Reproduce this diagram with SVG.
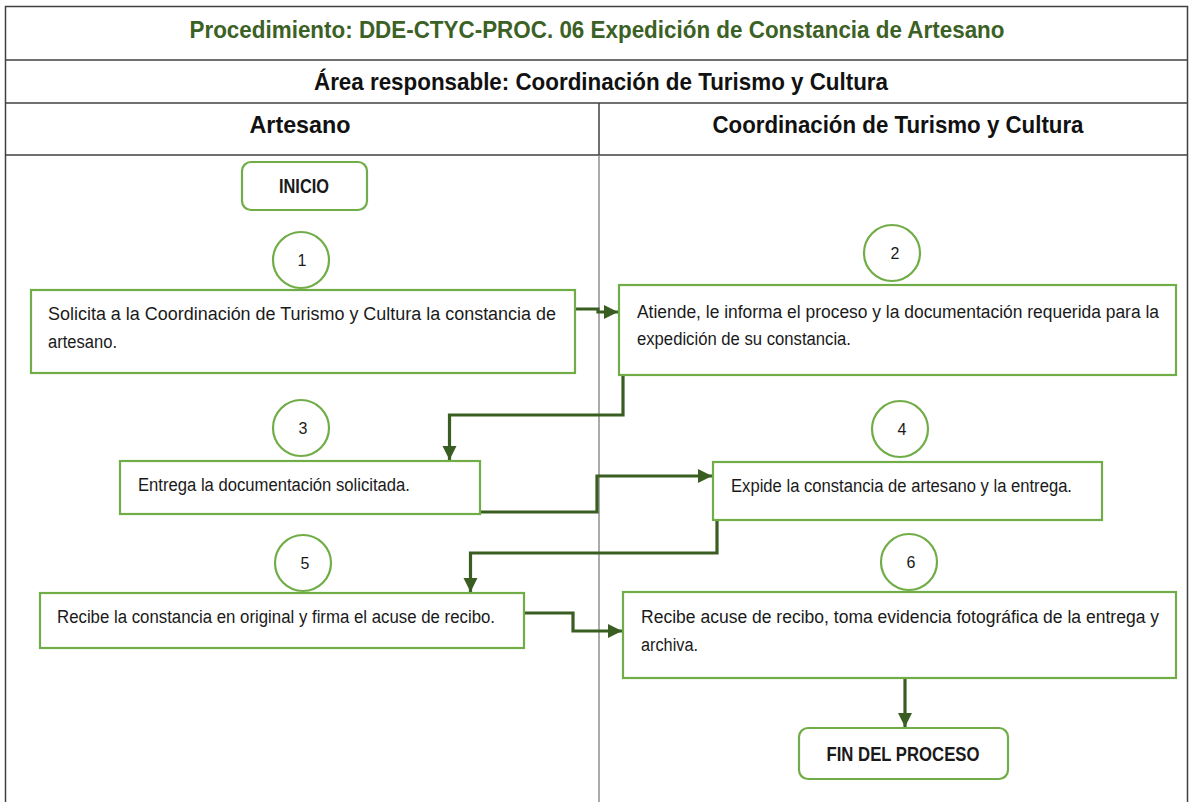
<svg xmlns="http://www.w3.org/2000/svg" width="1190" height="802" viewBox="0 0 1190 802">
  <defs>
    <style>
      .grid { stroke: #404040; stroke-width: 1.5; fill: none; }
      .lane { stroke: #7f7f7f; stroke-width: 1.3; fill: none; }
      .box { fill: #ffffff; stroke: #70ad47; stroke-width: 2.2; }
      .num { fill: #ffffff; stroke: #70ad47; stroke-width: 2.2; }
      .txt { font-family: "Liberation Sans", Arial, sans-serif; font-size: 18px; fill: #1a1a1a; }
      .dig { font-family: "Liberation Sans", Arial, sans-serif; font-size: 16px; fill: #1a1a1a; text-anchor: middle; }
      .term { font-family: "Liberation Sans", Arial, sans-serif; font-size: 19.5px; font-weight: bold; fill: #1a1a1a; text-anchor: middle; }
      .head { font-family: "Liberation Sans", Arial, sans-serif; font-size: 24px; font-weight: bold; fill: #111111; text-anchor: middle; }
      .title { fill: #3b6125; }
      .conn { fill: none; stroke: #3a5e22; stroke-width: 3.2; stroke-linejoin: miter; }
    </style>
    <marker id="arrow" markerUnits="userSpaceOnUse" markerWidth="15" markerHeight="15" refX="14" refY="7" orient="auto">
      <path d="M0,0 L14,7 L0,14 z" fill="#3a5e22"/>
    </marker>
  </defs>

  <rect width="1190" height="802" fill="#ffffff"/>

  <!-- table frame and swimlane headers -->
  <g id="table">
    <path class="grid" d="M5.5,803 V6.5 H1187.5 V803"/>
    <line class="grid" x1="5" y1="60" x2="1188" y2="60"/>
    <line class="grid" x1="5" y1="103" x2="1188" y2="103"/>
    <line class="grid" x1="5" y1="155" x2="1188" y2="155"/>
    <line class="grid" x1="599" y1="103" x2="599" y2="155"/>
    <line class="lane" x1="599" y1="155" x2="599" y2="802"/>
    <text class="head title" x="597" y="38" textLength="815" lengthAdjust="spacingAndGlyphs">Procedimiento: DDE-CTYC-PROC. 06 Expedición de Constancia de Artesano</text>
    <text class="head" x="601" y="90" textLength="574" lengthAdjust="spacingAndGlyphs">Área responsable: Coordinación de Turismo y Cultura</text>
    <text class="head" x="300" y="133" textLength="101" lengthAdjust="spacingAndGlyphs">Artesano</text>
    <text class="head" x="898" y="133" textLength="371" lengthAdjust="spacingAndGlyphs">Coordinación de Turismo y Cultura</text>
  </g>

  <!-- connectors -->
  <g id="connectors">
    <path class="conn" d="M575,309 H598 V312 H618" marker-end="url(#arrow)"/>
    <path class="conn" d="M623,375 V415 H449.5 V460" marker-end="url(#arrow)"/>
    <path class="conn" d="M480,512 H597 V476 H712" marker-end="url(#arrow)"/>
    <path class="conn" d="M717,520 V553 H470.5 V592" marker-end="url(#arrow)"/>
    <path class="conn" d="M524,613 H573 V631 H622" marker-end="url(#arrow)"/>
    <path class="conn" d="M905,678 V727" marker-end="url(#arrow)"/>
  </g>

  <g id="inicio">
    <rect class="box" x="242" y="162" width="125" height="48" rx="9"/>
    <text class="term" x="304" y="193" textLength="50" lengthAdjust="spacingAndGlyphs">INICIO</text>
  </g>

  <g id="step1">
    <circle class="num" cx="301" cy="260" r="28"/>
    <text class="dig" x="302" y="266">1</text>
    <rect class="box" x="31" y="290" width="544" height="83"/>
    <text class="txt" x="48" y="320" textLength="508" lengthAdjust="spacingAndGlyphs">Solicita a la Coordinación de Turismo y Cultura la constancia de</text>
    <text class="txt" x="48" y="348" textLength="69" lengthAdjust="spacingAndGlyphs">artesano.</text>
  </g>

  <g id="step2">
    <circle class="num" cx="892" cy="253" r="28"/>
    <text class="dig" x="895" y="259">2</text>
    <rect class="box" x="619" y="285" width="557" height="90"/>
    <text class="txt" x="637" y="318" textLength="522" lengthAdjust="spacingAndGlyphs">Atiende, le informa el proceso y la documentación requerida para la</text>
    <text class="txt" x="637" y="345" textLength="214" lengthAdjust="spacingAndGlyphs">expedición de su constancia.</text>
  </g>

  <g id="step3">
    <circle class="num" cx="301" cy="428" r="28"/>
    <text class="dig" x="303" y="434">3</text>
    <rect class="box" x="120" y="461" width="360" height="53"/>
    <text class="txt" x="138" y="491" textLength="272" lengthAdjust="spacingAndGlyphs">Entrega la documentación solicitada.</text>
  </g>

  <g id="step4">
    <circle class="num" cx="900" cy="429" r="28"/>
    <text class="dig" x="902" y="435">4</text>
    <rect class="box" x="713" y="462" width="389" height="58"/>
    <text class="txt" x="731" y="492" textLength="341" lengthAdjust="spacingAndGlyphs">Expide la constancia de artesano y la entrega.</text>
  </g>

  <g id="step5">
    <circle class="num" cx="303" cy="563" r="28"/>
    <text class="dig" x="305" y="569">5</text>
    <rect class="box" x="40" y="593" width="484" height="55"/>
    <text class="txt" x="57" y="623" textLength="438" lengthAdjust="spacingAndGlyphs">Recibe la constancia en original y firma el acuse de recibo.</text>
  </g>

  <g id="step6">
    <circle class="num" cx="909" cy="562" r="28"/>
    <text class="dig" x="911" y="568">6</text>
    <rect class="box" x="623" y="592" width="553" height="86"/>
    <text class="txt" x="641" y="623" textLength="518" lengthAdjust="spacingAndGlyphs">Recibe acuse de recibo, toma evidencia fotográfica de la entrega y</text>
    <text class="txt" x="641" y="651" textLength="57" lengthAdjust="spacingAndGlyphs">archiva.</text>
  </g>

  <g id="fin">
    <rect class="box" x="799" y="728" width="209" height="51" rx="9"/>
    <text class="term" x="903" y="761" textLength="153" lengthAdjust="spacingAndGlyphs">FIN DEL PROCESO</text>
  </g>
</svg>
